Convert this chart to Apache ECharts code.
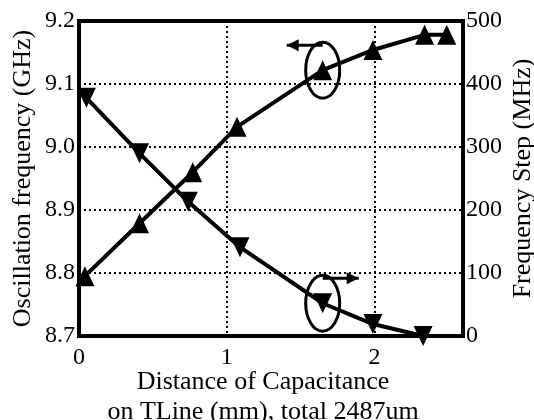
<!DOCTYPE html>
<html>
<head>
<meta charset="utf-8">
<script src="https://cdn.jsdelivr.net/npm/echarts@6/dist/echarts.min.js"></script>
<style>
    html, body { margin: 0; padding: 0; background: #fff; }
    #chart { width: 534px; height: 420px; }
</style>
</head>
<body>
<div id="chart"></div>
<script>
// distance of capacitance on the TLine (mm)
var distUp = [0.04, 0.41, 0.77, 1.07, 1.65, 1.99, 2.34, 2.49];
var oscFreq = [8.795, 8.879, 8.960, 9.032, 9.122, 9.154, 9.178, 9.178]; // GHz, left axis
var distDown = [0.05, 0.41, 0.74, 1.09, 1.65, 1.99, 2.33];
var freqStep = [378, 290, 213, 141, 52, 19, 0]; // MHz, right axis
var xTicks = [0, 1, 2];

var font = 'Liberation Serif, Times New Roman, serif';

function pairs(xs, ys) {
    var out = [];
    for (var i = 0; i < xs.length; i++) out.push([xs[i], ys[i]]);
    return out;
}

var chart = echarts.init(document.getElementById('chart'), null, { renderer: 'canvas' });

var option = {
    animation: false,
    backgroundColor: '#fff',
    textStyle: { fontFamily: font, color: '#000' },
    grid: {
        left: 79, right: 71, top: 21, bottom: 84,
        outerBoundsMode: 'none',
        containLabel: false,
        show: true, borderColor: '#000', borderWidth: 4, backgroundColor: 'transparent'
    },
    xAxis: {
        type: 'value',
        min: 0, max: 2.6, interval: 1,
        name: 'Distance of Capacitance\non TLine (mm), total 2487um',
        nameLocation: 'middle',
        nameGap: 31,
        nameMoveOverlap: false,
        nameTextStyle: { fontFamily: font, fontSize: 26, color: '#000', lineHeight: 30, padding: [0, 16, 0, 0] },
        axisLine: { show: true, lineStyle: { color: '#000', width: 4 } },
        axisTick: { show: false },
        axisLabel: {
            margin: 10, fontFamily: font, fontSize: 24, color: '#000',
            formatter: function (v) { return xTicks.indexOf(v) >= 0 ? String(v) : ''; }
        },
        splitLine: { show: true, lineStyle: { color: '#000', type: [2, 3], width: 2 } }
    },
    yAxis: [{
        type: 'value',
        min: 8.7, max: 9.2, interval: 0.1,
        position: 'left',
        name: 'Oscillation frequency (GHz)',
        nameLocation: 'middle',
        nameGap: 43,
        nameRotate: 90,
        nameMoveOverlap: false,
        nameTextStyle: { fontFamily: font, fontSize: 26, color: '#000' },
        axisLine: { show: true, lineStyle: { color: '#000', width: 4 } },
        axisTick: { show: false },
        axisLabel: {
            margin: 4, fontFamily: font, fontSize: 24, color: '#000',
            formatter: function (v) { return v.toFixed(1); }
        },
        splitLine: { show: true, lineStyle: { color: '#000', type: [2, 3], width: 2 } }
    }, {
        type: 'value',
        min: 0, max: 500, interval: 100,
        position: 'right',
        name: 'Frequency Step (MHz)',
        nameLocation: 'middle',
        nameGap: 47,
        nameRotate: 90,
        nameMoveOverlap: false,
        nameTextStyle: { fontFamily: font, fontSize: 26, color: '#000' },
        axisLine: { show: true, lineStyle: { color: '#000', width: 4 } },
        axisTick: { show: false },
        axisLabel: { margin: 3, fontFamily: font, fontSize: 24, color: '#000' },
        splitLine: { show: false }
    }],
    series: [{
        name: 'osc',
        type: 'line',
        yAxisIndex: 0,
        data: pairs(distUp, oscFreq),
        symbol: 'triangle',
        symbolSize: [19, 20],
        lineStyle: { color: '#000', width: 4 },
        itemStyle: { color: '#000' },
        z: 3
    }, {
        name: 'step',
        type: 'line',
        yAxisIndex: 1,
        data: pairs(distDown, freqStep),
        symbol: 'triangle',
        symbolRotate: 180,
        symbolSize: [19, 20],
        lineStyle: { color: '#000', width: 4 },
        itemStyle: { color: '#000' },
        z: 3
    }]
};

chart.setOption(option);

// ellipse + arrow callouts pointing each curve to its axis
function callout(pt, yAxisIndex, dir) {
    var c = chart.convertToPixel({ xAxisIndex: 0, yAxisIndex: yAxisIndex }, pt);
    var rx = 17, ry = 28;
    var ay = c[1] - ry + 3;
    var x0 = c[0], x1 = c[0] + dir * 36;
    var style = { stroke: '#000', lineWidth: 3, fill: null };
    return [
        { type: 'ellipse', shape: { cx: c[0], cy: c[1], rx: rx, ry: ry }, style: style, z: 10 },
        { type: 'line', shape: { x1: x0, y1: ay, x2: x1, y2: ay }, style: style, z: 10 },
        { type: 'polygon', shape: { points: [[x1, ay], [x1 - dir * 12, ay - 6], [x1 - dir * 12, ay + 6]] },
          style: { fill: '#000', stroke: null }, z: 10 }
    ];
}

chart.setOption({
    graphic: callout([distUp[4], oscFreq[4]], 0, -1).concat(callout([distDown[4], freqStep[4]], 1, 1))
});
</script>
</body>
</html>
